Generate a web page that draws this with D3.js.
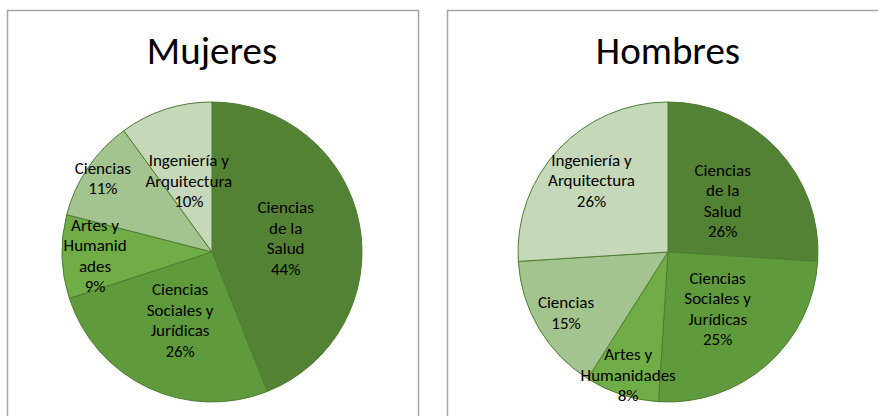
<!DOCTYPE html>
<html>
<head>
<meta charset="utf-8">
<script src="https://cdn.jsdelivr.net/npm/d3@7"></script>
<style>
  body { margin: 0; background: #fff; }
  svg { display: block; font-family: Calibri, Carlito, Lato, sans-serif; }
</style>
</head>
<body>
<svg id="chart" width="878" height="416"></svg>
<script>
// categories in clockwise order from 12 o'clock
var categories = ["Ciencias de la Salud", "Ciencias Sociales y Jurídicas",
                  "Artes y Humanidades", "Ciencias", "Ingeniería y Arquitectura"];

var mujeresValues = [44, 26, 9, 11, 10];
var hombresValues = [26, 25, 8, 15, 26];

// wrapped label text as Excel shows it
var mujeresLabels = [["Ciencias", "de la", "Salud"], ["Ciencias", "Sociales y", "Jurídicas"],
                     ["Artes y", "Humanid", "ades"], ["Ciencias"], ["Ingeniería y", "Arquitectura"]];
var hombresLabels = [["Ciencias", "de la", "Salud"], ["Ciencias", "Sociales y", "Jurídicas"],
                     ["Artes y", "Humanidades"], ["Ciencias"], ["Ingeniería y", "Arquitectura"]];

var colors = {
    "Ciencias de la Salud" : "#548235",
    "Ciencias Sociales y Jurídicas" : "#5f9b3d",
    "Artes y Humanidades" : "#70ad47",
    "Ciencias" : "#a3c48e",
    "Ingeniería y Arquitectura" : "#c5d8b9"
};

var svg = d3.select("#chart");

var drawPie = function (opts) {
    var g = svg.append("g");

    // panel frame
    g.append("rect")
        .attr("x", opts.x0 + 0.5)
        .attr("y", 10.5)
        .attr("width", opts.w)
        .attr("height", 430)
        .attr("fill", "#fff")
        .attr("stroke", "#a6a6a6")
        .attr("stroke-width", 1.5);

    g.append("text")
        .attr("x", opts.cx)
        .attr("y", 64)
        .attr("text-anchor", "middle")
        .style("font-size", "39px")
        .attr("fill", "#000")
        .text(opts.title);

    var r = 150;
    var data = categories.map(function (c, i) {
        return { cat: c, val: opts.values[i], lines: opts.labels[i] };
    });

    var pie = d3.pie().sort(null).value(function (d) { return d.val; });
    var arc = d3.arc().innerRadius(0).outerRadius(r);
    var arcs = pie(data);

    var pg = g.append("g").attr("transform", "translate(" + opts.cx + "," + opts.cy + ")");

    pg.selectAll("path")
        .data(arcs)
        .enter()
        .append("path")
        .attr("d", arc)
        .attr("fill", function (d) { return colors[d.data.cat]; })
        .attr("stroke", "#4e7d31")
        .attr("stroke-width", 1);

    // labels: centroid, pushed outward where Excel moved them
    var lh = 20.5;
    var lbl = pg.selectAll(".lbl")
        .data(arcs)
        .enter()
        .append("text")
        .attr("class", "lbl")
        .attr("text-anchor", "middle")
        .style("font-size", "17px")
        .attr("fill", "#000")
        .attr("transform", function (d) {
            var k = opts.labelRadius[d.data.cat] || 0.5;
            var a = (d.startAngle + d.endAngle) / 2;
            var x = Math.sin(a) * r * k;
            var y = -Math.cos(a) * r * k;
            return "translate(" + x + "," + y + ")";
        });

    lbl.each(function (d) {
        var lines = d.data.lines.concat([d.data.val + "%"]);
        var t = d3.select(this);
        var top = -(lines.length - 1) * lh / 2 + 6;
        lines.forEach(function (s, i) {
            t.append("tspan")
                .attr("x", 0)
                .attr("y", top + i * lh)
                .text(s);
        });
    });
};

drawPie({
    title: "Mujeres", values: mujeresValues, labels: mujeresLabels,
    x0: 7, w: 411, cx: 212, cy: 252,
    labelRadius: { "Artes y Humanidades": 0.78, "Ciencias": 0.88 }
});

drawPie({
    title: "Hombres", values: hombresValues, labels: hombresLabels,
    x0: 447, w: 440, cx: 668, cy: 252,
    labelRadius: { "Artes y Humanidades": 0.86, "Ciencias": 0.79, "Ingeniería y Arquitectura": 0.70 }
});
</script>
</body>
</html>
